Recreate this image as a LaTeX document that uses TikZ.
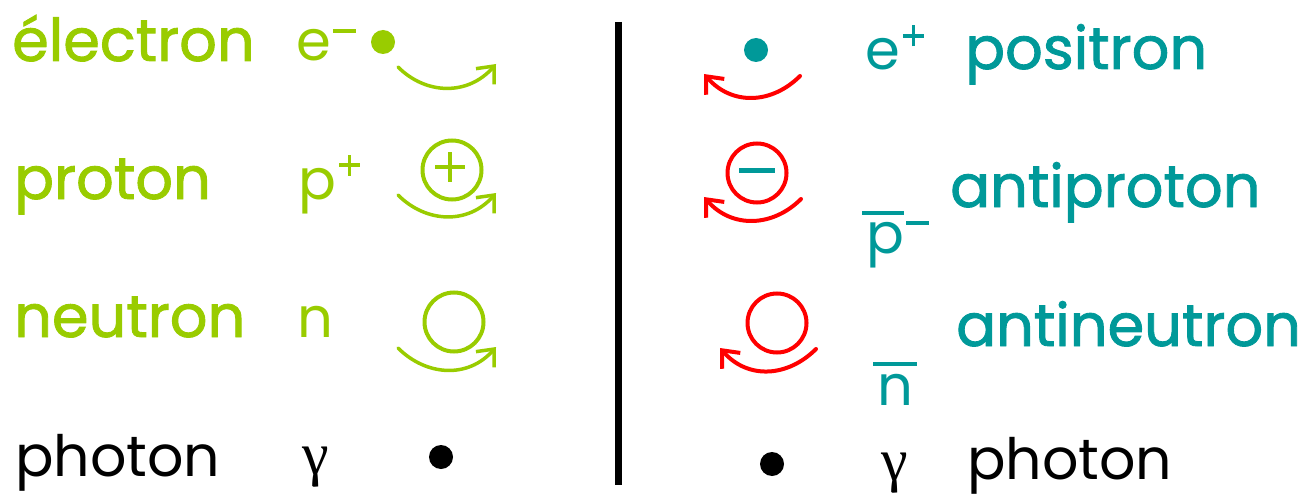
\documentclass[tikz,border=0pt]{standalone}
\usepackage{fontspec}
\setmainfont{Poppins}
\newfontfamily\comicfont{Poppins}[FakeBold=1.5]
\newfontfamily\greekfont{Liberation Serif}
\usetikzlibrary{arrows.meta}
\definecolor{matter}{RGB}{153,204,0}
\definecolor{anti}{RGB}{0,153,153}
\definecolor{spinred}{RGB}{255,0,0}
\newcommand\wordfont{\comicfont\fontsize{59}{60}\selectfont}
\newcommand\symbfont{\fontsize{56}{60}\selectfont}
\newcommand\chminus{\hspace{2pt}\rule[28pt]{23pt}{4pt}}
\newcommand\chplus{\hspace{3pt}\rlap{\rule[32.25pt]{21pt}{3.5pt}}\hspace{8.75pt}\rule[23.5pt]{3.5pt}{21pt}}
\newcommand\chbar[2]{\rlap{\hspace{-4pt}\rule[#1]{#2}{4pt}}}

\begin{document}
\begin{tikzpicture}[
  x=1pt, y=-1pt,
  word/.style={anchor=base west, inner sep=0pt, font=\wordfont},
  plainword/.style={anchor=base west, inner sep=0pt, font=\fontsize{57}{60}\selectfont},
  symb/.style={anchor=base west, inner sep=0pt, font=\symbfont},
  greek/.style={anchor=base west, inner sep=0pt, font=\greekfont\fontsize{60}{60}\selectfont},
  dot/.style={circle, inner sep=0pt, minimum size=24pt},
  shell/.style={circle, draw, inner sep=0pt, minimum size=59pt, line width=4pt},
  spin/.style={line width=3.5pt, line cap=round, -{Straight Barb[length=14pt, width=24pt]}},
]
\useasboundingbox (0,0) rectangle (1314,500);

% matter
\node[word, text=matter] (electron) at (12,61) {électron};
\node[symb, text=matter] (esym) at (296,61) {e\chminus};
\node[dot, fill=matter] (edot) at (383,42) {};
\node[word, text=matter] (proton) at (14,199) {proton};
\node[symb, text=matter] (psym) at (298,199) {p\chplus};
\node[shell, draw=matter] (pcore) at (452,170) {};
\node[word, text=matter] (neutron) at (14,337) {neutron};
\node[symb, text=matter] (nsym) at (297,337) {n};
\node[shell, draw=matter] (ncore) at (454,322) {};
\node[plainword] (photonL) at (15,476) {photon};
\node[greek] (gammaL) at (302,474) {γ};
\node[dot, fill=black] (gdotL) at (441,457) {};
\draw[matter, line width=4.5pt] (435,167) -- (465,167) (450,152) -- (450,182);

% antimatter
\node[dot, fill=anti] (posdot) at (756,50) {};
\node[symb, text=anti] (possym) at (865,70) {e\chplus};
\node[word, text=anti] (positron) at (965,69) {positron};
\node[shell, draw=spinred] (apcore) at (757,173) {};
\node[symb, text=anti] (apsym) at (866,253) {\chbar{38pt}{42pt}p\chminus};
\node[word, text=anti] (antiproton) at (950,207) {antiproton};
\node[shell, draw=spinred] (ancore) at (777,323) {};
\node[symb, text=anti] (ansym) at (877,405) {\chbar{39pt}{44pt}n};
\node[word, text=anti] (antineutron) at (956,346) {antineutron};
\node[dot, fill=black] (gdotR) at (772,464) {};
\node[greek] (gammaR) at (881,480) {γ};
\node[plainword] (photonR) at (967,479) {photon};
\draw[anti, line width=5pt] (739,170) -- (775,170);

% divider
\coordinate (divtop) at (618,22);
\coordinate (divbot) at (618,485);
\draw[line width=7pt] (divtop) -- (divbot);

% spin arrows
\coordinate (eA) at (398,67);   \coordinate (eB) at (496,64);
\coordinate (pA) at (398,195);  \coordinate (pB) at (496,193);
\coordinate (nA) at (398,348);  \coordinate (nB) at (496,347);
\draw[spin, matter] (eA) .. controls +(28,28) and +(-28,32) .. (eB);
\draw[spin, matter] (pA) .. controls +(28,28) and +(-28,32) .. (pB);
\draw[spin, matter] (nA) .. controls +(28,28) and +(-28,32) .. (nB);
\coordinate (eaA) at (800,76);  \coordinate (eaB) at (704,74);
\coordinate (paA) at (801,199); \coordinate (paB) at (704,197);
\coordinate (naA) at (816,349); \coordinate (naB) at (720,348);
\draw[spin, spinred, line width=4pt] (eaA) .. controls +(-28,28) and +(28,32) .. (eaB);
\draw[spin, spinred, line width=4pt] (paA) .. controls +(-28,28) and +(28,32) .. (paB);
\draw[spin, spinred, line width=4pt] (naA) .. controls +(-28,28) and +(28,32) .. (naB);
\end{tikzpicture}
\end{document}
